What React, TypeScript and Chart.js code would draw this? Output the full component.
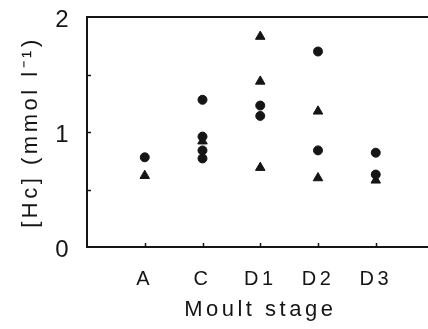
import React, { useEffect, useRef } from 'react';
import { Chart, registerables } from 'chart.js';

Chart.register(...registerables);

// ---- data ----
const categories = ['A', 'C', 'D1', 'D2', 'D3'];
const circleCat = ['A', 'C', 'C', 'C', 'C', 'D1', 'D1', 'D2', 'D2', 'D3', 'D3'];
const circleVal = [0.78, 1.28, 0.96, 0.84, 0.77, 1.23, 1.14, 1.70, 0.84, 0.82, 0.63];
const triangleCat = ['A', 'C', 'D1', 'D1', 'D1', 'D2', 'D2', 'D3'];
const triangleVal = [0.62, 0.92, 1.83, 1.44, 0.69, 1.18, 0.60, 0.58];
const yLabeled = [0, 1, 2];
const yStep = 0.5;
const yTitle = '[Hc] (mmol l\u207B\u00B9)';
const xTitle = 'Moult stage';

const FONT = "'Liberation Sans', Arial, Helvetica, sans-serif";
const INK = '#151515';

const toPoints = (cats: string[], vals: number[]) =>
  vals.map((v, i) => ({ x: categories.indexOf(cats[i]), y: v }));

const framePlugin = {
  id: 'frame',
  beforeUpdate(chart: any) {
    try { chart.ctx.letterSpacing = '3.5px'; } catch (e) {}
  },
  afterDraw(chart: any) {
    const { ctx, chartArea: a, scales } = chart;
    ctx.save();
    ctx.strokeStyle = INK;
    ctx.lineWidth = 2;
    ctx.beginPath();
    ctx.moveTo(a.left - 1, a.top);
    ctx.lineTo(a.right, a.top);
    ctx.stroke();
    ctx.lineWidth = 1.5;
    ctx.beginPath();
    for (const t of scales.y.ticks) {
      if (t.value <= scales.y.min || t.value >= scales.y.max) continue;
      const py = Math.round(scales.y.getPixelForValue(t.value)) + 0.5;
      ctx.moveTo(a.left, py);
      ctx.lineTo(a.left + 4, py);
    }
    for (const t of scales.x.ticks) {
      const px = Math.round(scales.x.getPixelForValue(t.value)) + 0.5;
      ctx.moveTo(px, a.bottom);
      ctx.lineTo(px, a.bottom - 4);
    }
    ctx.stroke();
    ctx.restore();
  },
};

export default function App() {
  const ref = useRef<HTMLCanvasElement>(null);
  useEffect(() => {
    if (!ref.current) return;
    const chart = new Chart(ref.current, {
      type: 'scatter',
      data: {
        datasets: [
          {
            label: 'circles',
            data: toPoints(circleCat, circleVal),
            pointStyle: 'circle',
            pointRadius: 4.5,
            borderWidth: 1,
            backgroundColor: INK,
            borderColor: INK,
          },
          {
            label: 'triangles',
            data: toPoints(triangleCat, triangleVal),
            pointStyle: 'triangle',
            pointRadius: 5.5,
            borderWidth: 1,
            backgroundColor: INK,
            borderColor: INK,
          },
        ],
      },
      options: {
        animation: false,
        responsive: false,
        devicePixelRatio: 1,
        layout: { padding: { left: 0, top: 17, right: 0, bottom: 0 } },
        plugins: { legend: { display: false }, tooltip: { enabled: false } },
        scales: {
          x: {
            type: 'linear',
            min: -1,
            max: 5,
            afterBuildTicks: (s: any) => {
              s.ticks = categories.map((_, i) => ({ value: i }));
            },
            afterFit: (s: any) => {
              s.height = 82;
              s.paddingLeft = 0;
              s.paddingRight = 0;
            },
            grid: { display: true, drawOnChartArea: false, drawTicks: false },
            border: { display: true, color: INK, width: 2 },
            ticks: {
              autoSkip: false,
              maxRotation: 0,
              padding: 20,
              color: INK,
              font: { family: FONT, size: 20 },
              callback: (v: any) => (categories[v] !== undefined ? categories[v] : ''),
            },
            title: {
              display: true,
              text: xTitle,
              color: INK,
              font: { family: FONT, size: 22 },
              padding: { top: 0, bottom: 6 },
            },
          },
          y: {
            min: 0,
            max: 2,
            afterFit: (s: any) => {
              s.width = 87;
              s.paddingTop = 0;
              s.paddingBottom = 0;
            },
            grid: { display: true, drawOnChartArea: false, drawTicks: false },
            border: { display: true, color: INK, width: 2 },
            ticks: {
              stepSize: yStep,
              padding: 15,
              labelOffset: 3,
              color: INK,
              font: { family: FONT, size: 24 },
              callback: (v: any) => (yLabeled.includes(v) ? String(v) : ''),
            },
            title: {
              display: true,
              text: yTitle,
              color: INK,
              font: { family: FONT, size: 22 },
              padding: { top: 18, bottom: 0 },
            },
          },
        },
      },
      plugins: [framePlugin],
    } as any);
    return () => chart.destroy();
  }, []);
  // The figure is cropped: the plot frame continues past the right edge of the 428px picture.
  return (
    <div style={{ position: 'fixed', left: 0, top: 0, width: 428, height: 329, background: '#fff', overflow: 'hidden' }}>
      <canvas ref={ref} width={440} height={329} style={{ display: 'block' }} />
    </div>
  );
}
